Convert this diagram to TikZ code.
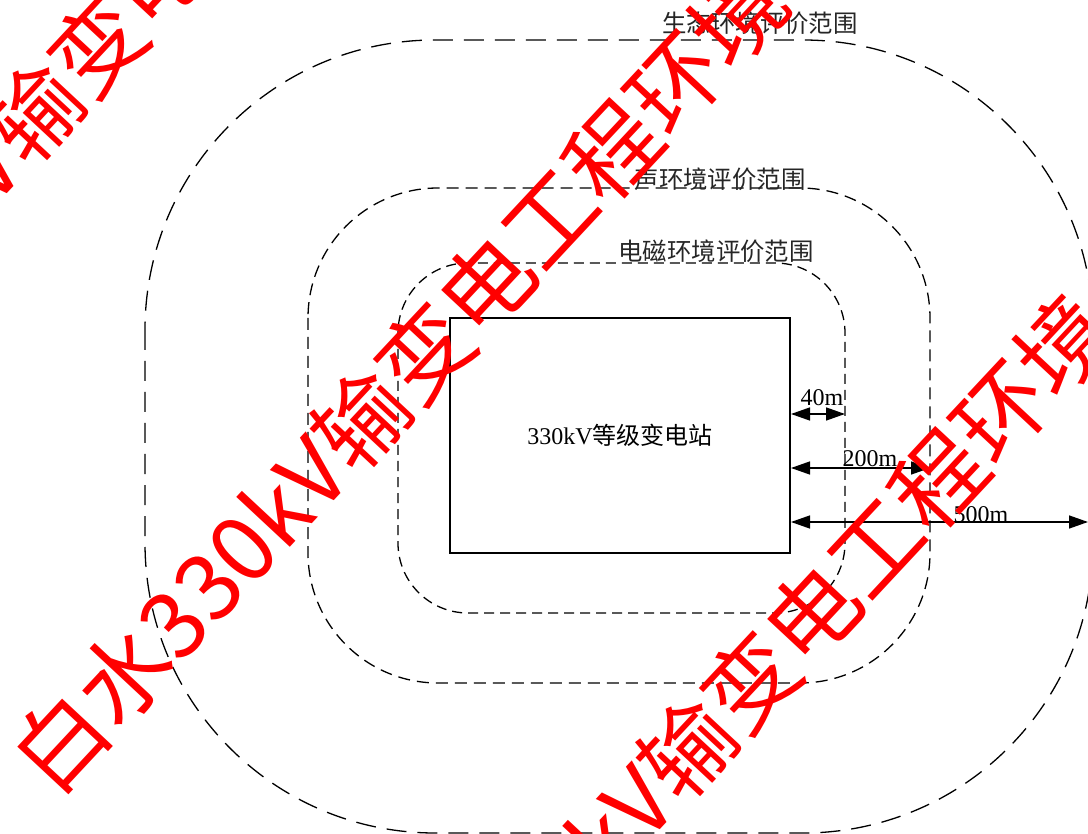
\documentclass[tikz,border=0pt]{standalone}
\usepackage{fontspec}
\setmainfont{Liberation Serif}
\newfontfamily\cjk{Noto Sans CJK SC}
\usetikzlibrary{arrows.meta}
\begin{document}
\begin{tikzpicture}[x=1pt,y=-1pt,
  outerzone/.style={draw=black, line width=1.3pt, dash pattern=on 20pt off 11pt, rounded corners=290pt},
  midzone/.style={draw=black, line width=1.3pt, dash pattern=on 12pt off 7pt, rounded corners=130pt},
  innerzone/.style={draw=black, line width=1.3pt, dash pattern=on 10pt off 6pt, rounded corners=70pt},
  station/.style={draw=black, line width=2pt, minimum width=340pt, minimum height=235pt, inner sep=0pt,
    font=\fontsize{24}{28}\selectfont},
  lbl/.style={font=\cjk\fontsize{24.4}{28}\selectfont, inner sep=0pt, text=black!85},
  dimlbl/.style={font=\fontsize{24}{28}\selectfont, inner sep=0pt, anchor=base},
  dimarrow/.style={line width=1.4pt, {Triangle[length=19pt,width=13pt]}-{Triangle[length=19pt,width=13pt]}},
  wm/.style={text=red, font=\cjk\fontsize{92}{100}\selectfont, rotate=47, inner sep=0pt}
]
\useasboundingbox (0,0) rectangle (1088,834);
\fill[white] (0,0) rectangle (1088,834);
\clip (0,0) rectangle (1088,834);

% zones
\draw[outerzone] (145,40) rectangle (1093,833);
\draw[midzone] (308,188) rectangle (930,683);
\draw[innerzone] (398,263) rectangle (845,613);

% zone labels
\node[lbl] (lEco) at (760,23) {生态环境评价范围};
\node[lbl] (lSound) at (720,179) {声环境评价范围};
\node[lbl] (lEM) at (716,251) {电磁环境评价范围};

% substation
\node[station] (st) at (620,435.5) {330kV{\cjk 等级变电站}};

% dimension ends
\coordinate (r40) at (845,414);
\coordinate (r200) at (930,468);
\coordinate (r500) at (1088,522);

\draw[dimarrow] (st.east |- r40) -- (r40);
\draw[dimarrow] (st.east |- r200) -- (r200);
\draw[dimarrow] (st.east |- r500) -- (r500);

\node[dimlbl] (t40) at (822,406) {40m};
\node[dimlbl] (t200) at (870,467) {200m};
\node[dimlbl] (t500) at (981,522) {500m};

% watermark
\node[wm] (wm1) at (72,72) {白水330kV输变电工程环境};
\node[wm] (wm2) at (399,379) {白水330kV输变电工程环境};
\node[wm] (wm3) at (725,708) {白水330kV输变电工程环境};
\end{tikzpicture}
\end{document}
